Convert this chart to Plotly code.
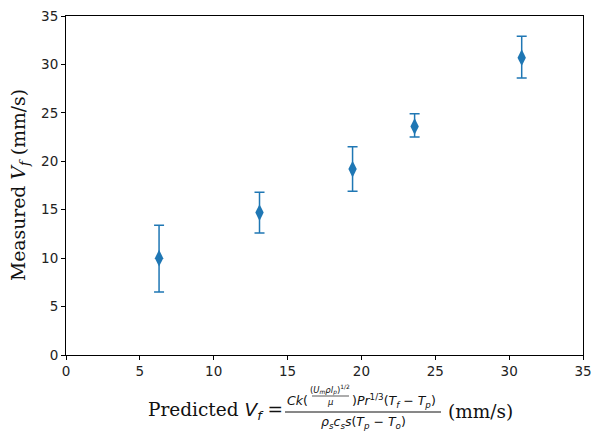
import plotly.graph_objects as go

pred_x = [6.3, 13.1, 19.4, 23.6, 30.85]
meas_y = [10.0, 14.7, 19.2, 23.6, 30.7]
err_top = [13.4, 16.8, 21.5, 24.9, 32.9]
err_bot = [6.5, 12.6, 16.9, 22.5, 28.6]
x_ticks = [0, 5, 10, 15, 20, 25, 30, 35]
y_ticks = [0, 5, 10, 15, 20, 25, 30, 35]

BLUE = "#1f77b4"
SERIF = "DejaVu Serif"
SANS = "DejaVu Sans"

err_plus = [t - v for t, v in zip(err_top, meas_y)]
err_minus = [v - b for v, b in zip(meas_y, err_bot)]

fig = go.Figure()
fig.add_trace(go.Scatter(
    x=pred_x, y=meas_y, mode="markers",
    marker=dict(symbol="diamond-tall", size=12, color=BLUE),
    error_y=dict(type="data", symmetric=False, array=err_plus, arrayminus=err_minus,
                 color=BLUE, thickness=1.5, width=5),
    showlegend=False,
))

W, H = 595, 432
L, R, T, B = 66, 12, 16, 77
pw, ph = W - L - R, H - T - B

def px(x):
    return (x - L) / pw

def py(y):
    return (H - B - y) / ph

axis_common = dict(showline=True, linecolor="black", linewidth=1, mirror=True,
                   ticks="outside", ticklen=4, tickcolor="black", showgrid=False,
                   zeroline=False, automargin=False, ticklabeloverflow="allow",
                   tickfont=dict(family=SANS, size=13.5, color="#222"))

fig.update_layout(
    width=W, height=H, margin=dict(l=L, r=R, t=T, b=B),
    paper_bgcolor="white", plot_bgcolor="white",
    xaxis=dict(range=[0, 35], tickvals=x_ticks, **axis_common),
    yaxis=dict(range=[0, 35], tickvals=y_ticks, **axis_common),
)

ann = []
def add(text, x, y, size, family=SANS, xanchor="left", angle=0):
    ann.append(dict(text=text, x=px(x), y=py(y), xref="paper", yref="paper",
                    xanchor=xanchor, yanchor="middle", showarrow=False, textangle=angle,
                    font=dict(family=family, size=size, color="#111")))

add("Measured <i>V<sub>f</sub></i> (mm/s)", 20, 185, 18.8, SERIF, "center", -90)
add('Predicted <span style="font-family:DejaVu Sans"><i>V<sub>f</sub></i></span> =', 285, 411, 18.5, SERIF, "right")
add("<i>Ck</i>(", 285, 401, 12.5)
add("(<i>U<sub>m</sub>ρl<sub>p</sub></i>)<sup>1/2</sup>", 330, 389, 8.5, SANS, "center")
add("<i>μ</i>", 330, 402, 8.5, SANS, "center")
add(")<i>Pr</i><sup>1/3</sup>(<i>T<sub>f</sub></i> − <i>T<sub>p</sub></i>)", 350, 401, 12.5)
add("<i>ρ<sub>s</sub>c<sub>s</sub>s</i>(<i>T<sub>p</sub></i> − <i>T<sub>o</sub></i>)", 363, 422, 12.5, SANS, "center")
add("(mm/s)", 446, 411, 18.5, SERIF)
fig.update_layout(annotations=ann)

shapes = [
    dict(type="line", xref="paper", yref="paper", x0=px(285), x1=px(441), y0=py(412), y1=py(412),
         line=dict(color="#111", width=1)),
    dict(type="line", xref="paper", yref="paper", x0=px(312), x1=px(349), y0=py(396), y1=py(396),
         line=dict(color="#111", width=0.7)),
]
fig.update_layout(shapes=shapes)

fig.write_html("out.html", config={"displayModeBar": False},
               post_script="document.body.style.margin='0';document.body.style.overflow='hidden';")
